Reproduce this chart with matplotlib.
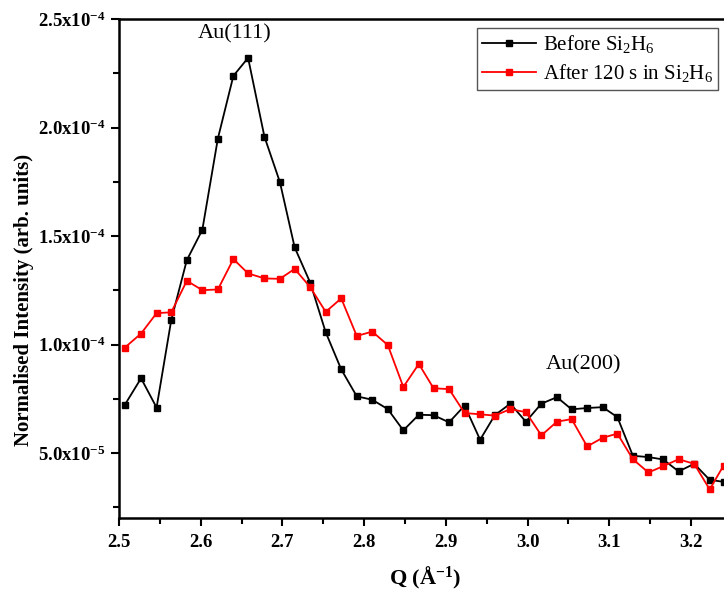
import matplotlib
matplotlib.use("Agg")
import matplotlib.pyplot as plt
from matplotlib.ticker import MultipleLocator, FixedLocator, FuncFormatter

plt.rcParams['font.family'] = ['Liberation Serif', 'DejaVu Serif']
plt.rcParams['mathtext.fontset'] = 'custom'
plt.rcParams['mathtext.rm'] = 'Liberation Serif'
plt.rcParams['mathtext.it'] = 'Liberation Serif:italic'
plt.rcParams['mathtext.bf'] = 'Liberation Serif:bold'

# Q values (1/Angstrom)
q = [2.507, 2.527, 2.546, 2.564, 2.583, 2.602, 2.621, 2.640, 2.658, 2.678,
     2.697, 2.715, 2.734, 2.753, 2.772, 2.791, 2.810, 2.829, 2.848, 2.867,
     2.885, 2.904, 2.923, 2.942, 2.960, 2.979, 2.998, 3.017, 3.036, 3.054,
     3.073, 3.092, 3.110, 3.129, 3.148, 3.166, 3.185, 3.204, 3.223, 3.240]

# intensities in units of 1e-4
before = [0.722, 0.845, 0.710, 1.114, 1.389, 1.529, 1.949, 2.238, 2.321, 1.958,
          1.748, 1.448, 1.286, 1.057, 0.886, 0.762, 0.746, 0.703, 0.605, 0.677,
          0.675, 0.642, 0.719, 0.562, 0.675, 0.728, 0.645, 0.728, 0.758, 0.702,
          0.708, 0.712, 0.666, 0.488, 0.482, 0.471, 0.416, 0.451, 0.377, 0.368]

after = [0.986, 1.051, 1.145, 1.149, 1.294, 1.251, 1.254, 1.394, 1.328, 1.305,
         1.303, 1.349, 1.265, 1.151, 1.213, 1.040, 1.060, 0.998, 0.805, 0.911,
         0.799, 0.795, 0.685, 0.679, 0.673, 0.703, 0.689, 0.582, 0.645, 0.657,
         0.531, 0.571, 0.590, 0.472, 0.411, 0.440, 0.472, 0.451, 0.333, 0.443]

xticks = [2.5, 2.6, 2.7, 2.8, 2.9, 3.0, 3.1, 3.2]

before = [v * 1e-4 for v in before]
after = [v * 1e-4 for v in after]

fig = plt.figure(figsize=(7.24, 5.92), dpi=100)
# axes runs past the right edge of the figure (cropped like the original)
ax = fig.add_axes([119/724, 73.7/592, 0.8*817/724, (518.3-19)/592])

ax.plot(q, before, color='black', marker='s', markersize=5, lw=1.3,
        label='Before Si$_2$H$_6$')
ax.plot(q, after, color='red', marker='s', markersize=5, lw=1.3,
        label='After 120 s in Si$_2$H$_6$')

ax.set_xlim(2.5, 3.3)
ax.set_ylim(2.0e-5, 2.5e-4)

ax.xaxis.set_major_locator(FixedLocator(xticks))
ax.xaxis.set_minor_locator(MultipleLocator(0.05))
ax.yaxis.set_major_locator(MultipleLocator(5e-5))
ax.yaxis.set_minor_locator(MultipleLocator(2.5e-5))


def yfmt(v, pos):
    if v < 1e-4 - 1e-9:
        return r'$\mathbf{%.1fx10^{-5}}$' % (v / 1e-5)
    return r'$\mathbf{%.1fx10^{-4}}$' % (v / 1e-4)


ax.yaxis.set_major_formatter(FuncFormatter(yfmt))
ax.xaxis.set_major_formatter(FuncFormatter(lambda v, p: '%.1f' % v))

ax.tick_params(which='major', direction='out', length=6, width=1.5)
ax.tick_params(which='minor', direction='out', length=4, width=1.5)
ax.tick_params(axis='y', labelsize=13.5)
ax.tick_params(axis='x', labelsize=13.5, pad=5)
for lab in ax.get_xticklabels():
    lab.set_fontweight('bold')

for s in ['left', 'bottom', 'top']:
    ax.spines[s].set_linewidth(1.8)
ax.spines['right'].set_visible(False)

ax.set_xlabel(r'Q (Å$^{\mathbf{-1}}$)', fontsize=16, fontweight='bold')
ax.xaxis.set_label_coords((425 - 119) / 653.6, (518.3 - 565) / 499.3)
ax.set_ylabel('Normalised Intensity (arb. units)', fontsize=15, fontweight='bold')
ax.yaxis.set_label_coords((34 - 119) / 653.6, (518.3 - 300) / 499.3)

ax.text(2.642, 2.43e-4, 'Au(111)', fontsize=16, ha='center', va='center')
ax.text(3.068, 0.905e-4, 'Au(200)', fontsize=16, ha='center', va='center')

leg = ax.legend(loc='upper right', bbox_to_anchor=(718/724, 1 - 28/592),
                bbox_transform=fig.transFigure, borderaxespad=0, fontsize=15,
                handlelength=2.6, markerscale=0.9, fancybox=False,
                edgecolor='#555555', framealpha=1, borderpad=0.25,
                labelspacing=0.35, handletextpad=0.3)
leg.get_frame().set_linewidth(1.0)

fig.savefig('out.png', dpi=100)
